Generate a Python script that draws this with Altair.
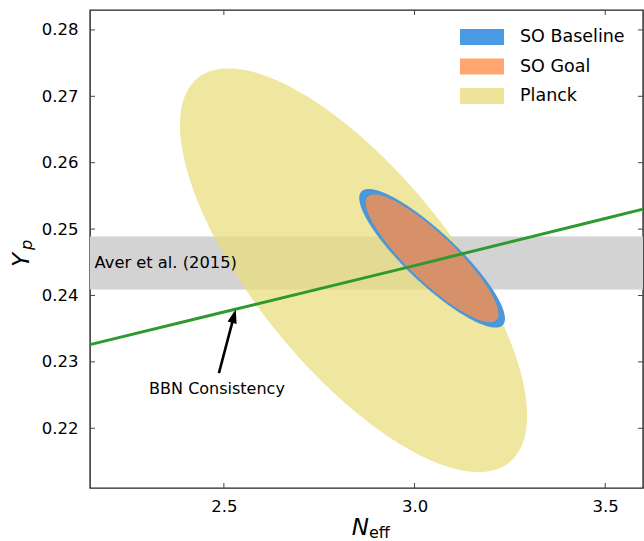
import numpy as np
import pandas as pd
import altair as alt

# Axis ranges and ticks
x_domain = [2.149, 3.599]
y_domain = [0.211, 0.283]
x_ticks = [2.5, 3.0, 3.5]
y_ticks = [0.22, 0.23, 0.24, 0.25, 0.26, 0.27, 0.28]

W, H = 553, 478

# Forecast contours: centre, half-extent in each parameter, correlation
ell_names = ["Planck", "SO Baseline", "SO Goal"]
ell_neff = [2.840, 3.046, 3.046]
ell_yp = [0.2438, 0.2456, 0.2456]
ell_dneff = [0.455, 0.191, 0.174]
ell_dyp = [0.0304, 0.01044, 0.00962]
ell_rho = [-0.72, -0.87, -0.87]
ell_fill = ["#E9DC7A", "#4A97DA", "#D6916A"]
ell_opacity = [0.72, 1.0, 1.0]

# Helium abundance measurement (Aver et al. 2015)
aver_lo, aver_hi = 0.2409, 0.2489

# BBN consistency relation Yp(Neff)
bbn_neff = [2.149, 2.5, 3.0, 3.5, 3.599]
bbn_yp = [0.2326, 0.2375, 0.2445, 0.2516, 0.2530]

# Annotation arrow: label position and arrow tip
arrow_tail = (2.487, 0.2283)
arrow_tip = (2.531, 0.2379)
bbn_label_pos = (2.482, 0.2259)

# Legend entries (swatch colours)
legend_labels = ["SO Baseline", "SO Goal", "Planck"]
legend_colors = ["#4A9BE4", "#FFA66E", "#EEE59B"]

FONT = "DejaVu Sans"

xs = alt.Scale(domain=x_domain, nice=False, zero=False)
ys = alt.Scale(domain=y_domain, nice=False, zero=False)
x_axis = alt.Axis(values=x_ticks, format=".1f", title=None)
y_axis = alt.Axis(values=y_ticks, format=".2f", title=None)


def ellipse_frame(cx, cy, a, b, rho, n=241):
    t = np.linspace(0, np.pi, n)
    u = -np.cos(t)
    mid = cy + rho * b * u
    half = b * np.sqrt(1 - rho ** 2) * np.sin(t)
    return pd.DataFrame({"neff": cx + a * u, "hi": mid + half, "lo": mid - half})


layers = []

# Grey measurement band
band_df = pd.DataFrame({"lo": [aver_lo], "hi": [aver_hi]})
layers.append(
    alt.Chart(band_df).mark_rect(color="#D3D3D3").encode(
        x=alt.value(0), x2=alt.value(W),
        y=alt.Y("lo:Q", scale=ys, axis=y_axis),
        y2="hi:Q",
    )
)

# Ellipses
for i in range(len(ell_names)):
    df = ellipse_frame(ell_neff[i], ell_yp[i], ell_dneff[i], ell_dyp[i], ell_rho[i])
    layers.append(
        alt.Chart(df).mark_area(color=ell_fill[i], opacity=ell_opacity[i], orient="vertical").encode(
            x=alt.X("neff:Q", scale=xs, axis=x_axis),
            y=alt.Y("lo:Q", scale=ys, axis=y_axis),
            y2="hi:Q",
        )
    )

# BBN line
bbn_df = pd.DataFrame({"neff": bbn_neff, "yp": bbn_yp})
layers.append(
    alt.Chart(bbn_df).mark_line(color="#2E9A2E", strokeWidth=3).encode(
        x=alt.X("neff:Q", scale=xs, axis=x_axis), y=alt.Y("yp:Q", scale=ys, axis=y_axis)
    )
)

# Arrow
frac = 0.12
end = (arrow_tip[0] - frac * (arrow_tip[0] - arrow_tail[0]),
       arrow_tip[1] - frac * (arrow_tip[1] - arrow_tail[1]))
arrow_df = pd.DataFrame({"x": [arrow_tail[0]], "y": [arrow_tail[1]], "x2": [end[0]], "y2": [end[1]]})
layers.append(
    alt.Chart(arrow_df).mark_rule(color="black", strokeWidth=2.6).encode(
        x=alt.X("x:Q", scale=xs, axis=x_axis), y=alt.Y("y:Q", scale=ys, axis=y_axis), x2="x2:Q", y2="y2:Q"
    )
)
head_df = pd.DataFrame({"x": [arrow_tip[0]], "y": [arrow_tip[1]]})
layers.append(
    alt.Chart(head_df).mark_point(
        shape="M0,0L-0.34,1L0.34,1Z", filled=True, color="black", opacity=1, size=760, angle=15
    ).encode(x=alt.X("x:Q", scale=xs, axis=x_axis), y=alt.Y("y:Q", scale=ys, axis=y_axis))
)

# Text annotations
notes_df = pd.DataFrame({
    "x": [x_domain[0] + 0.012, bbn_label_pos[0]],
    "y": [(aver_lo + aver_hi) / 2, bbn_label_pos[1]],
    "t": ["Aver et al. (2015)", "BBN Consistency"],
})
layers.append(
    alt.Chart(notes_df.iloc[[0]]).mark_text(align="left", baseline="middle", font=FONT, fontSize=16.3, color="black").encode(
        x=alt.X("x:Q", scale=xs, axis=x_axis), y=alt.Y("y:Q", scale=ys, axis=y_axis), text="t:N"
    )
)
layers.append(
    alt.Chart(notes_df.iloc[[1]]).mark_text(align="center", baseline="middle", font=FONT, fontSize=16, color="black").encode(
        x=alt.X("x:Q", scale=xs, axis=x_axis), y=alt.Y("y:Q", scale=ys, axis=y_axis), text="t:N"
    )
)

# Inward tick marks on all four sides
xt = pd.DataFrame({"v": x_ticks})
yt = pd.DataFrame({"v": y_ticks})
tick_color = "#444444"
layers.append(alt.Chart(xt).mark_rule(color=tick_color, strokeWidth=1).encode(
    x=alt.X("v:Q", scale=xs, axis=x_axis), y=alt.value(H), y2=alt.value(H - 5)))
layers.append(alt.Chart(xt).mark_rule(color=tick_color, strokeWidth=1).encode(
    x=alt.X("v:Q", scale=xs, axis=x_axis), y=alt.value(0), y2=alt.value(5)))
layers.append(alt.Chart(yt).mark_rule(color=tick_color, strokeWidth=1).encode(
    y=alt.Y("v:Q", scale=ys, axis=y_axis), x=alt.value(0), x2=alt.value(5)))
layers.append(alt.Chart(yt).mark_rule(color=tick_color, strokeWidth=1).encode(
    y=alt.Y("v:Q", scale=ys, axis=y_axis), x=alt.value(W), x2=alt.value(W - 5)))

# Legend
leg_df = pd.DataFrame({"label": legend_labels, "color": legend_colors, "row": list(range(len(legend_labels)))})
leg = alt.Chart(leg_df).transform_calculate(
    ytop="19 + 29.5 * datum.row", ybot="35 + 29.5 * datum.row", ymid="27 + 29.5 * datum.row"
)
layers.append(leg.mark_rect().encode(
    x=alt.value(370), x2=alt.value(414),
    y=alt.Y("ytop:Q", scale=None), y2="ybot:Q",
    color=alt.Color("color:N", scale=None),
))
layers.append(leg.mark_text(align="left", baseline="middle", font=FONT, fontSize=17.5, color="black").encode(
    x=alt.value(430), y=alt.Y("ymid:Q", scale=None), text="label:N"
))

# Axis titles with subscripts
title_df = pd.DataFrame({"t": ["N", "eff", "Y", "p"]})
layers.append(alt.Chart(title_df.iloc[[0]]).mark_text(
    align="right", baseline="alphabetic", font=FONT, fontSize=23, fontStyle="italic", color="black"
).encode(x=alt.value(279), y=alt.value(525), text="t:N"))
layers.append(alt.Chart(title_df.iloc[[1]]).mark_text(
    align="left", baseline="alphabetic", font=FONT, fontSize=16, color="black"
).encode(x=alt.value(279), y=alt.value(528), text="t:N"))
layers.append(alt.Chart(title_df.iloc[[2]]).mark_text(
    align="left", baseline="alphabetic", font=FONT, fontSize=23, fontStyle="italic", color="black", angle=270
).encode(x=alt.value(-61), y=alt.value(257), text="t:N"))
layers.append(alt.Chart(title_df.iloc[[3]]).mark_text(
    align="left", baseline="alphabetic", font=FONT, fontSize=16, fontStyle="italic", color="black", angle=270
).encode(x=alt.value(-58), y=alt.value(240), text="t:N"))

chart = alt.layer(*layers).properties(
    width=W, height=H,
    autosize=alt.AutoSizeParams(type="none"),
    padding={"left": 90, "top": 10, "right": 1, "bottom": 53},
).configure_view(
    stroke="#222222", strokeWidth=1.4
).configure_axis(
    grid=False, domain=False, ticks=False, labelFont=FONT, labelFontSize=16.5, labelColor="black", title=None
).configure_axisX(
    labelPadding=10
).configure_axisY(
    labelPadding=12
)

chart.save("out.html", embed_options={"renderer": "svg", "actions": False})
